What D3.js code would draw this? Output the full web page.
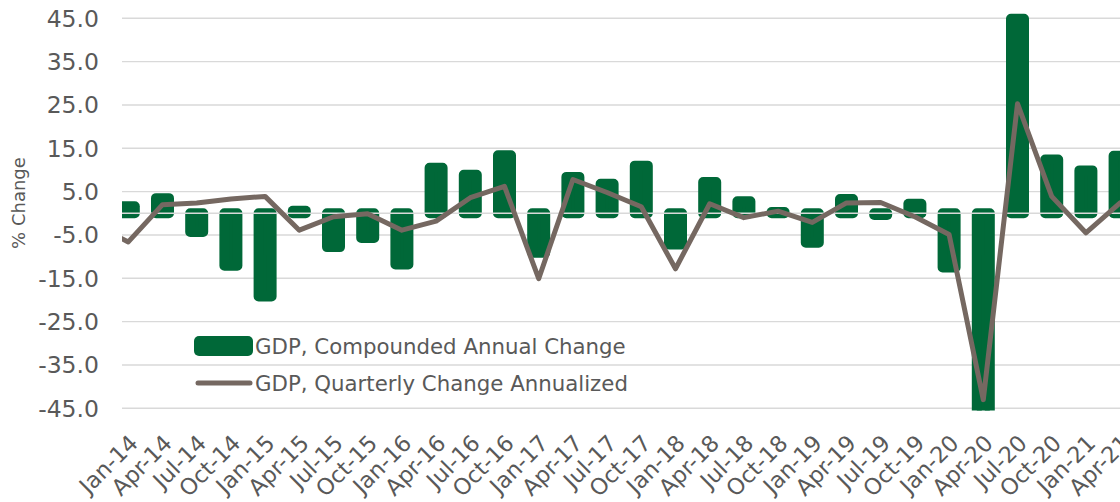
<!DOCTYPE html>
<html>
<head>
<meta charset="UTF-8">
<script src="https://d3js.org/d3.v7.min.js"></script>
<style>
  body { margin: 0; background: #fff; }
  text { font-family: "DejaVu Sans", Verdana, sans-serif; fill: #595959; }
</style>
</head>
<body>
<div id="chart"></div>
<script>
// quarters (Oct-13 only feeds the start of the line, it sits left of the plot)
var quarters = ["Oct-13","Jan-14","Apr-14","Jul-14","Oct-14","Jan-15","Apr-15","Jul-15","Oct-15",
  "Jan-16","Apr-16","Jul-16","Oct-16","Jan-17","Apr-17","Jul-17","Oct-17","Jan-18","Apr-18",
  "Jul-18","Oct-18","Jan-19","Apr-19","Jul-19","Oct-19","Jan-20","Apr-20","Jul-20","Oct-20",
  "Jan-21","Apr-21"];
// GDP, Compounded Annual Change (%)
var compounded = [null, 1.6, 3.5, -4.3, -12.1, -19.2, 0.6, -7.8, -5.7,
  -11.8, 10.5, 8.9, 13.4, -9.1, 8.4, 6.8, 11.0, -7.2, 7.2,
  2.8, 0.3, -6.8, 3.3, -0.4, 2.2, -12.5, -48, 44.9, 12.4,
  9.9, 13.3];
// GDP, Quarterly Change Annualized (%)
var annualized = [-2.6, -6.6, 2.0, 2.4, 3.3, 3.9, -3.9, -0.8, -0.1,
  -3.9, -1.8, 3.6, 6.2, -15.1, 7.8, 4.8, 1.5, -12.8, 2.2,
  -1.0, 0.5, -2.1, 2.4, 2.5, -0.8, -4.9, -43.0, 25.3, 3.9,
  -4.5, 2.4];
var yTicks = [45, 35, 25, 15, 5, -5, -15, -25, -35, -45];
var seriesNames = ["GDP, Compounded Annual Change", "GDP, Quarterly Change Annualized"];

var width = 1120, height = 502;
var plotLeft = 122, plotRight = 1120, plotTop = 18.3, plotBottom = 408.3;
var barColor = "#006838", lineColor = "#756861", gridColor = "#d9d9d9";

var svg = d3.select("#chart").append("svg")
  .attr("width", width).attr("height", height);

var x = d3.scalePoint().domain(quarters).range([94.1, 1120.1]);
var y = d3.scaleLinear().domain([-45, 45]).range([plotBottom, plotTop]);

svg.append("clipPath").attr("id", "plot")
  .append("rect").attr("x", plotLeft).attr("y", 0).attr("width", plotRight - plotLeft).attr("height", 410.5);

// gridlines + y labels
svg.append("g").selectAll("line").data(yTicks).enter().append("line")
  .attr("x1", plotLeft).attr("x2", plotRight)
  .attr("y1", function(d){ return y(d); }).attr("y2", function(d){ return y(d); })
  .attr("stroke", gridColor).attr("stroke-width", 1.4);

svg.append("g").selectAll("text").data(yTicks).enter().append("text")
  .attr("x", 99).attr("y", function(d){ return y(d); })
  .attr("dy", "0.36em")
  .attr("text-anchor", "end")
  .style("font-size", "23.5px")
  .text(function(d){ return d.toFixed(1); });

// y title
svg.append("text")
  .attr("transform", "translate(25,203) rotate(-90)")
  .attr("text-anchor", "middle")
  .style("font-size", "18px")
  .text("% Change");

var plot = svg.append("g").attr("clip-path", "url(#plot)");

// bars: stroked in the same colour with round joins, like the rounded Excel bars
plot.selectAll("rect.bar").data(quarters.map(function(q, i){ return {q: q, v: compounded[i]}; })
    .filter(function(d){ return d.v !== null; }))
  .enter().append("rect").attr("class", "bar")
  .attr("x", function(d){ return x(d.q) - 6.5; })
  .attr("width", 13)
  .attr("y", function(d){ return Math.min(y(d.v), y(0)); })
  .attr("height", function(d){ return Math.abs(y(d.v) - y(0)); })
  .attr("fill", barColor).attr("stroke", barColor)
  .attr("stroke-width", 10).attr("stroke-linejoin", "round");

// zero axis line over the bars
plot.append("line")
  .attr("x1", plotLeft).attr("x2", plotRight).attr("y1", y(0)).attr("y2", y(0))
  .attr("stroke", gridColor).attr("stroke-width", 1.4);

var line = d3.line()
  .x(function(d){ return x(d.q); })
  .y(function(d){ return y(d.v); });

plot.append("path")
  .datum(quarters.map(function(q, i){ return {q: q, v: annualized[i]}; }))
  .attr("d", line)
  .attr("fill", "none").attr("stroke", lineColor)
  .attr("stroke-width", 5).attr("stroke-linejoin", "round").attr("stroke-linecap", "round");

// x labels, rotated
svg.append("g").selectAll("text").data(quarters.slice(1)).enter().append("text")
  .attr("transform", function(d){ return "translate(" + (x(d) + 11) + ",444.5) rotate(-45)"; })
  .attr("text-anchor", "end")
  .style("font-size", "22.5px")
  .text(function(d){ return d; });

// legend
var legend = svg.append("g");
legend.append("rect")
  .attr("x", 194).attr("y", 336).attr("width", 59).attr("height", 20).attr("rx", 5)
  .attr("fill", barColor);
legend.append("text").attr("x", 255).attr("y", 354)
  .style("font-size", "21.3px").text(seriesNames[0]);
legend.append("line")
  .attr("x1", 198).attr("x2", 250).attr("y1", 383).attr("y2", 383)
  .attr("stroke", lineColor).attr("stroke-width", 5).attr("stroke-linecap", "round");
legend.append("text").attr("x", 255).attr("y", 391)
  .style("font-size", "21.3px").text(seriesNames[1]);
</script>
</body>
</html>
